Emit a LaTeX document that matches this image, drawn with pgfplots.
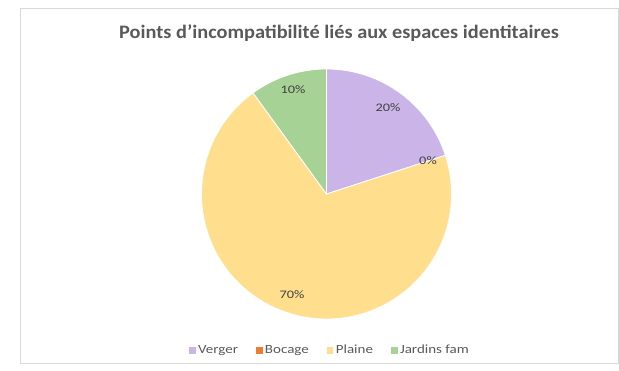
\documentclass[border=0pt]{standalone}
\usepackage{pgfplots}
\pgfplotsset{compat=1.18}
\usepackage{graphicx}
\usepackage{fontspec}
\setmainfont{Carlito}
\definecolor{verger}{HTML}{CBB4E8}
\definecolor{bocage}{HTML}{ED7D31}
\definecolor{plaine}{HTML}{FFDF8E}
\definecolor{jardins}{HTML}{A6D296}
\definecolor{txt}{HTML}{404040}
\definecolor{leg}{HTML}{595959}
% data (percent)
\def\pctA{20}\def\pctB{0}\def\pctC{70}\def\pctD{10}
\def\cx{326.5}\def\cy{177}\def\rr{125}
\pgfmathsetmacro\aA{90}
\pgfmathsetmacro\aB{\aA-3.6*\pctA}
\pgfmathsetmacro\aC{\aB-3.6*\pctB}
\pgfmathsetmacro\aD{\aC-3.6*\pctC}
\pgfmathsetmacro\aE{\aD-3.6*\pctD}
\newcommand\slice[3]{\fill[#3, draw=white, line width=0.8pt] (axis cs:\cx,\cy) -- ([shift={(#1:\rr pt)}]axis cs:\cx,\cy) arc[start angle=#1, end angle=#2, radius=\rr pt] -- cycle;}
\newcommand\lab[1]{\scalebox{1.25}[1]{#1}}
\newcommand\legtxt[1]{\scalebox{1.2}[1]{#1}}
\begin{document}
\begin{tikzpicture}
\begin{axis}[
  x=1pt, y=1pt, xmin=0, xmax=619, ymin=0, ymax=371,
  scale only axis, hide axis, clip=false,
  legend columns=4,
  legend style={draw=none, fill=none, at={(axis cs:330,21)}, anchor=center,
    font=\fontsize{12.5}{14}\selectfont\color{leg},
    /tikz/every even column/.append style={column sep=16pt},
    /tikz/every odd column/.append style={column sep=1pt}},
  legend cell align=left,
]
\path (axis cs:0,0) rectangle (axis cs:619,371);
\draw[color={rgb,255:red,217;green,217;blue,217}, line width=0.6pt] (axis cs:20,363) rectangle (axis cs:618,8);
\node[font=\fontsize{19}{22}\selectfont\bfseries, text=leg] at (axis cs:339,338) {\scalebox{1.07}[1]{Points d’incompatibilité liés aux espaces identitaires}};
\slice{\aA}{\aB}{verger}
\slice{\aC}{\aD}{plaine}
\slice{\aD}{\aE}{jardins}
\begin{scope}[every node/.style={font=\fontsize{11.5}{13}\selectfont, text=txt}]
\node at (axis cs:388,263) {\lab{20\%}};
\node at (axis cs:428,210) {\lab{0\%}};
\node at (axis cs:293,281) {\lab{10\%}};
\node at (axis cs:292,76) {\lab{70\%}};
\end{scope}
\addlegendimage{legend image code/.code={\fill[verger] (0pt,-2.8pt) rectangle (5.6pt,2.8pt);}}
\addlegendentry{\legtxt{Verger}}
\addlegendimage{legend image code/.code={\fill[bocage] (0pt,-2.8pt) rectangle (5.6pt,2.8pt);}}
\addlegendentry{\legtxt{Bocage}}
\addlegendimage{legend image code/.code={\fill[plaine] (0pt,-2.8pt) rectangle (5.6pt,2.8pt);}}
\addlegendentry{\legtxt{Plaine}}
\addlegendimage{legend image code/.code={\fill[jardins] (0pt,-2.8pt) rectangle (5.6pt,2.8pt);}}
\addlegendentry{\legtxt{Jardins fam}}
\end{axis}
\end{tikzpicture}
\end{document}
